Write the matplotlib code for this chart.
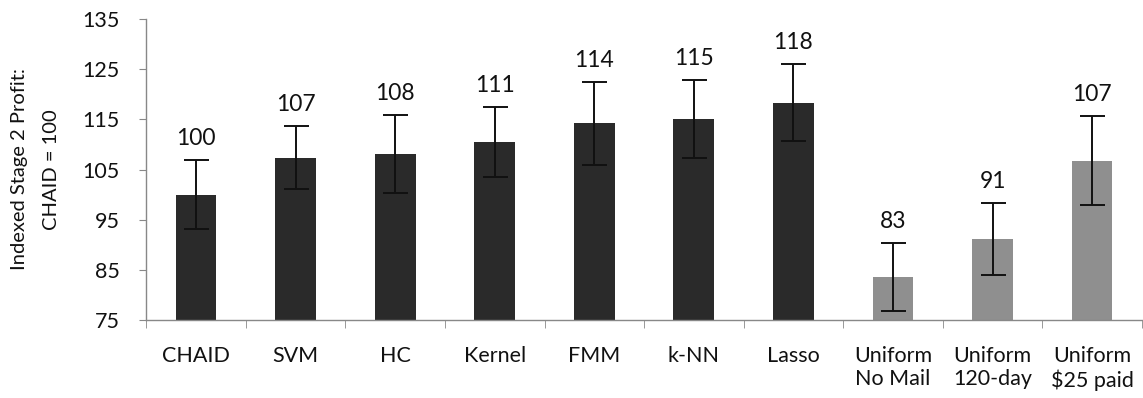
import numpy as np
import matplotlib.pyplot as plt
import matplotlib as mpl

plt.rcParams['font.family'] = ['Lato', 'DejaVu Sans']

categories = ['CHAID', 'SVM', 'HC', 'Kernel', 'FMM', 'k-NN', 'Lasso',
              'Uniform\nNo Mail', 'Uniform\n120-day', 'Uniform\n$25 paid']
values = [100, 107.4, 108.1, 110.5, 114.2, 115.1, 118.3, 83.5, 91.1, 106.8]
errors = [6.9, 6.2, 7.7, 6.9, 8.2, 7.8, 7.7, 6.8, 7.2, 8.8]
labels = ['100', '107', '108', '111', '114', '115', '118', '83', '91', '107']
is_uniform = [False] * 7 + [True] * 3

dark = '#2a2a2a'
light = '#8f8f8f'
colors = [light if u else dark for u in is_uniform]

fig = plt.figure(figsize=(11.43, 3.98), dpi=100)
ax = fig.add_axes([0.128, 0.196, 0.871, 0.756])

x = np.arange(len(categories))
base = 75
ax.bar(x, np.array(values) - base, bottom=base, width=0.41, color=colors,
       edgecolor='none', zorder=2)
ax.errorbar(x, values, yerr=errors, fmt='none', ecolor='#111111',
            elinewidth=1.4, capsize=9, capthick=1.4, zorder=3)

for xi, v, e, lab in zip(x, values, errors, labels):
    ax.annotate(lab, (xi, v + e), xytext=(0, 8), textcoords='offset points',
                ha='center', va='bottom', fontsize=16.5, color='#111111')

ax.set_xlim(-0.5, len(categories) - 0.5)
ax.set_ylim(75, 135)
ax.set_yticks(np.arange(75, 136, 10))
ax.tick_params(axis='y', labelsize=15.5, length=5, color='#888888', pad=14,
               labelcolor='#111111')
ax.set_xticks(x)
ax.set_xticklabels(categories, fontsize=15.5, color='#111111', linespacing=1.15)
ax.tick_params(axis='x', which='major', length=0, pad=19)
ax.set_xticks(np.arange(-0.5, len(categories), 1), minor=True)
ax.tick_params(axis='x', which='minor', length=6, color='#888888', direction='out')

for s in ['top', 'right']:
    ax.spines[s].set_visible(False)
for s in ['left', 'bottom']:
    ax.spines[s].set_color('#888888')
    ax.spines[s].set_linewidth(1)

ax.set_ylabel('Indexed Stage 2 Profit:\nCHAID = 100', fontsize=14.5,
              color='#111111', linespacing=2.1, labelpad=16)

plt.savefig('out.png', dpi=100)
plt.close()
